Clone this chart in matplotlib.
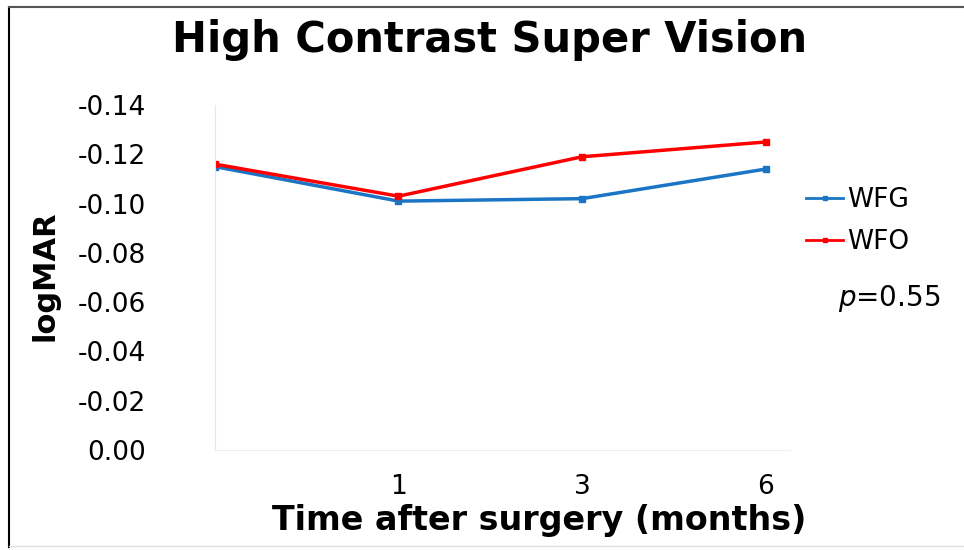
"""
High Contrast Super Vision - logMAR over time after surgery
"""

import matplotlib.pyplot as plt
from matplotlib.lines import Line2D
from matplotlib.ticker import FuncFormatter

# Data
time_labels = ["", "1", "3", "6"]
wfg_values = [-0.115, -0.101, -0.102, -0.114]
wfo_values = [-0.116, -0.103, -0.119, -0.125]
y_ticks = [0.00, -0.02, -0.04, -0.06, -0.08, -0.10, -0.12, -0.14]

BLUE = "#1a75c4"
RED = "#ff0000"

plt.rcParams['font.family'] = ['DejaVu Sans']

fig = plt.figure(figsize=(9.64, 5.5), dpi=100)
ax = fig.add_axes([0.223, 0.182, 0.597, 0.627])

x = list(range(len(time_labels)))
ax.plot(x, wfg_values, color=BLUE, linewidth=2.5, marker='s', markersize=5,
        label='WFG')
ax.plot(x, wfo_values, color=RED, linewidth=2.5, marker='s', markersize=5,
        label='WFO')

# Axis ranges (y inverted: 0.00 at bottom, -0.14 at top)
ax.set_xlim(0, 3.136)
ax.set_ylim(0.0, -0.14)

ax.set_xticks(x)
ax.set_xticklabels(time_labels)
ax.set_yticks(y_ticks)
ax.yaxis.set_major_formatter(FuncFormatter(lambda v, pos: f"{v:.2f}".replace("\u2212", "-")))
ax.tick_params(axis='x', length=0, pad=17, labelsize=19)
ax.tick_params(axis='y', length=0, pad=50, labelsize=19)

# Spines
for side in ['top', 'right']:
    ax.spines[side].set_visible(False)
ax.spines['left'].set_color('#e6e6e6')
ax.spines['bottom'].set_color('#eeeeee')

# Labels and title
fig.text(0.559, 0.053, 'Time after surgery (months)', fontsize=24,
         fontweight='bold', ha='center', va='center')
fig.text(0.047, 0.498, 'logMAR', rotation=90, fontsize=22, fontweight='bold',
         ha='center', va='center')
fig.text(0.508, 0.927, 'High Contrast Super Vision', fontsize=30,
         fontweight='bold', ha='center', va='center')

# Legend
leg = ax.legend(loc='center left', bbox_to_anchor=(1.0, 0.664), frameon=False,
                fontsize=19, handlelength=1.4, handletextpad=0.15,
                labelspacing=0.6, borderaxespad=0.2)
for h in leg.legend_handles:
    h.set_linewidth(2)
    h.set_markersize(3)

fig.text(0.869, 0.458, r'$p$=0.55', fontsize=20, ha='left', va='center')

# Frame around the picture
fig.add_artist(Line2D([0.009, 0.009], [0.005, 0.988], color='black',
                      linewidth=1.5, transform=fig.transFigure))
fig.add_artist(Line2D([0.009, 1.0], [0.988, 0.988], color='#555555',
                      linewidth=1.5, transform=fig.transFigure))
fig.add_artist(Line2D([0.009, 1.0], [0.007, 0.007], color='#dddddd',
                      linewidth=1.0, transform=fig.transFigure))

fig.savefig('out.png', dpi=100)
